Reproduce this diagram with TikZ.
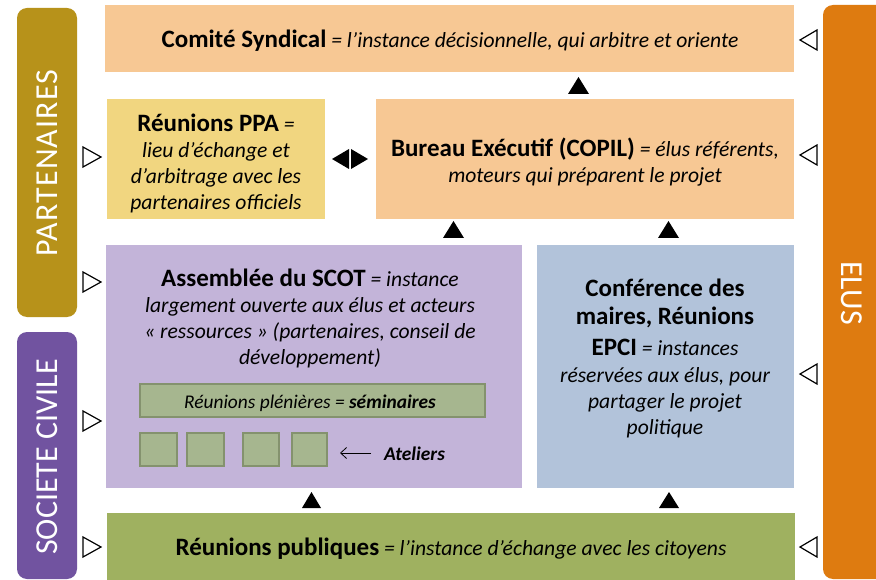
\documentclass[tikz,border=0pt]{standalone}
\usepackage{fontspec}
\setmainfont{Carlito}
\usetikzlibrary{fit,arrows.meta}
\definecolor{peach}{RGB}{247,200,148}
\definecolor{ppayellow}{RGB}{241,214,128}
\definecolor{lavender}{RGB}{195,180,217}
\definecolor{bluegrey}{RGB}{178,195,218}
\definecolor{pubgreen}{RGB}{159,177,96}
\definecolor{innergreen}{RGB}{166,182,143}
\definecolor{innerborder}{RGB}{132,146,110}
\definecolor{barolive}{RGB}{183,146,26}
\definecolor{barpurple}{RGB}{113,83,160}
\definecolor{barorange}{RGB}{222,123,16}
\newcommand\boldpart[1]{{\fontsize{25}{26}\selectfont\bfseries #1}}
\newcommand\italpart[1]{{\fontsize{21.6}{26}\selectfont\itshape #1}}
\tikzset{
  panel/.style={inner sep=0pt, draw=none},
  sidebar/.style={inner sep=0pt, draw=none, rounded corners=10pt},
  sidelabel/.style={text=white, font=\fontsize{32}{34}\selectfont, inner sep=0pt},
  maintext/.style={align=center, font=\fontsize{21.6}{26}\selectfont, inner sep=0pt},
  smalltext/.style={align=center, font=\fontsize{19.4}{22}\selectfont, inner sep=0pt},
  innerbox/.style={inner sep=0pt, fill=innergreen, draw=innerborder, line width=1.5pt},
  uptri/.style={fill=black},
  opentri/.style={draw=black, fill=white, line width=1.2pt, line join=miter},
}
\begin{document}
\begin{tikzpicture}[x=1pt,y=-1pt]
\clip (0,0) rectangle (876,580);
\fill[white] (0,0) rectangle (876,580);

% side bars
\node[sidebar, fill=barolive, fit={(17,8) (77,317)}] (partbar) {};
\node[sidebar, fill=barpurple, fit={(17,332) (77,579)}] (socbar) {};
\node[sidebar, fill=barorange, fit={(823,5) (896,579)}] (elusbar) {};
\node[sidelabel, rotate=90] (partlabel) at (47,163) {\addfontfeature{LetterSpace=3.6}PARTENAIRES};
\node[sidelabel, rotate=90] (soclabel) at (47,457) {SOCIETE CIVILE};
\node[sidelabel, rotate=-90] (eluslabel) at (852,293) {ELUS};

% main panels
\node[panel, fill=peach, fit={(105,5) (794,72)}] (comite) {};
\node[panel, fill=ppayellow, fit={(107,99) (325,219)}] (ppa) {};
\node[panel, fill=peach, fit={(376,99) (794,219)}] (bureau) {};
\node[panel, fill=lavender, fit={(106,245) (522,488)}] (assemblee) {};
\node[panel, fill=bluegrey, fit={(537,245) (794,488)}] (conference) {};
\node[panel, fill=pubgreen, fit={(107,513) (795,580)}] (publiques) {};

% texts
\node[maintext] (comitetxt) at (450,40.5) {\boldpart{Comité Syndical} \italpart{= l’instance décisionnelle, qui arbitre et oriente}};
\node[maintext] (ppatxt) at (216,163) {\boldpart{Réunions PPA} \italpart{=}\\ \italpart{lieu d’échange et}\\ \italpart{d’arbitrage avec les}\\ \italpart{partenaires officiels}};
\node[maintext] (bureautxt) at (585,162) {\boldpart{Bureau Exécutif (COPIL)} \italpart{= élus référents,}\\ \italpart{moteurs qui préparent le projet}};
\node[maintext, font=\fontsize{21.6}{26.3}\selectfont] (assembleetxt) at (310,318.5) {\boldpart{Assemblée du SCOT} \italpart{= instance}\\ \italpart{largement ouverte aux élus et acteurs}\\ \italpart{« ressources » (partenaires, conseil de}\\ \italpart{développement)}};
\node[maintext] (conferencetxt) at (665,358) {\boldpart{Conférence des}\\[2pt] \boldpart{maires, Réunions}\\[5pt] \boldpart{EPCI} \italpart{= instances}\\[1pt] \italpart{réservées aux élus, pour}\\ \italpart{partager le projet}\\ \italpart{politique}};
\node[maintext] (publiquestxt) at (451,549) {\boldpart{Réunions publiques} \italpart{= l’instance d’échange avec les citoyens}};

% inner elements of the assembly
\node[innerbox, fit={(140,384) (485,417)}] (plenieres) {};
\node[smalltext] (plenierestxt) at (310,403) {\textit{Réunions plénières =} \textbf{\textit{séminaires}}};
\node[innerbox, fit={(140,433) (177,466)}] (atelier1) {};
\node[innerbox, fit={(187,433) (224,466)}] (atelier2) {};
\node[innerbox, fit={(243,433) (279,466)}] (atelier3) {};
\node[innerbox, fit={(292,433) (327,466)}] (atelier4) {};
\node[smalltext, anchor=west] (ateliers) at (384,454) {\textbf{\textit{Ateliers}}};
\coordinate (atip) at (340,453);
\draw[line width=0.8pt, -{Straight Barb[length=6pt,width=11pt,line width=0.8pt]}] ([xshift=-13pt]ateliers.west |- atip) -- (atip);

% black up triangles
\fill[uptri] (568,94) -- (589,94) -- (578.5,77) -- cycle;
\fill[uptri] (443,238) -- (464,238) -- (453.5,221) -- cycle;
\fill[uptri] (658,238) -- (679,238) -- (668.5,221) -- cycle;
\fill[uptri] (302,508) -- (321,508) -- (311.5,492) -- cycle;
\fill[uptri] (659,508) -- (679,508) -- (669,492) -- cycle;

% double arrow between PPA and Bureau
\fill[uptri] (349,149) -- (349,169) -- (332,159) -- cycle;
\fill[uptri] (351,149) -- (351,169) -- (368,159) -- cycle;

% open triangles from the side bars
\foreach \yy in {157,282,421,547} {
  \draw[opentri] (83,\yy-10) -- (83,\yy+10) -- (101,\yy) -- cycle;
}
\foreach \yy in {40,155,374,547} {
  \draw[opentri] (817,\yy-10) -- (817,\yy+10) -- (800,\yy) -- cycle;
}
\end{tikzpicture}
\end{document}
